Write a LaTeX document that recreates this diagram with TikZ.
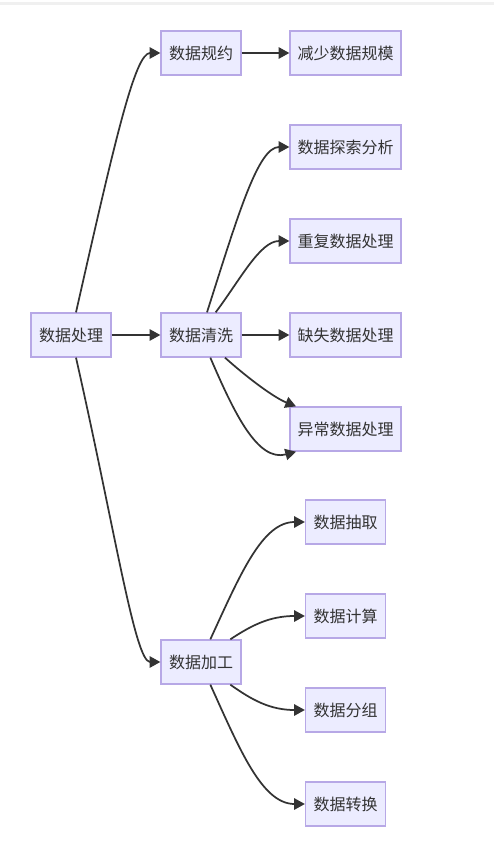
\documentclass[tikz,border=0pt]{standalone}
\usepackage{fontspec}
\setmainfont{Noto Sans CJK SC}
\usepackage{tikz}
\usepackage{xcolor}
\usetikzlibrary{arrows.meta}

\definecolor{boxfill}{HTML}{ECECFF}
\definecolor{boxline}{HTML}{B7A8E6}
\definecolor{inkc}{HTML}{333333}

\begin{document}
\begin{tikzpicture}[x=0.75pt, y=-0.75pt,
        box/.style={draw=boxline, fill=boxfill, line width=1pt, text=inkc,
            minimum height=33pt, minimum width=60pt, inner sep=0pt,
            font=\fontsize{12pt}{14pt}\selectfont},
        wide/.style={box, minimum width=83.25pt},
        arr/.style={draw=inkc, line width=1.3pt,
            -{Triangle[length=8pt, width=8.5pt]}}]
        \useasboundingbox[fill=white] (0, 0) rectangle (494, 859);
        \fill[gray!12] (0, 2.5) rectangle (494, 5.5);

        \node[box] at (71, 335) (proc) {数据处理};
        \node[box] at (201, 53) (reduce) {数据规约};
        \node[wide] at (345.5, 53) (shrink) {减少数据规模};
        \node[box] at (201, 335) (clean) {数据清洗};
        \node[wide] at (345.5, 147) (explore) {数据探索分析};
        \node[wide] at (345.5, 241) (dup) {重复数据处理};
        \node[wide] at (345.5, 335) (miss) {缺失数据处理};
        \node[wide] at (345.5, 429) (odd) {异常数据处理};
        \node[box] at (201, 662) (work) {数据加工};
        \node[box] at (345.5, 522) (extract) {数据抽取};
        \node[box] at (345.5, 616) (calc) {数据计算};
        \node[box] at (345.5, 710) (group) {数据分组};
        \node[box] at (345.5, 804) (conv) {数据转换};

        \draw[arr] ([xshift=3.75pt]proc.north) .. controls (115, 140) and (135, 53) .. (reduce.west);
        \draw[arr] (proc.east) -- (clean.west);
        \draw[arr] ([xshift=3.75pt]proc.south) .. controls (115, 530) and (135, 662) .. (work.west);
        \draw[arr] (reduce.east) -- (shrink.west);

        \draw[arr] ([xshift=4.5pt]clean.north) .. controls (238, 215) and (258, 147) .. (explore.west);
        \draw[arr] ([xshift=11pt]clean.north) .. controls (240, 280) and (260, 241) .. (dup.west);
        \draw[arr] (clean.east) -- (miss.west);
        \draw[arr] ([xshift=18pt]clean.south) .. controls (250, 380) and (275, 398) .. ([xshift=5pt]odd.north west);
        \draw[arr] ([xshift=7pt]clean.south) .. controls (235, 415) and (258, 462) .. ([xshift=5pt]odd.south west);

        \draw[arr] ([xshift=7pt]work.north) .. controls (240, 575) and (262, 522) .. (extract.west);
        \draw[arr] ([xshift=22pt]work.north) .. controls (252, 625) and (270, 616) .. (calc.west);
        \draw[arr] ([xshift=22pt]work.south) .. controls (252, 700) and (270, 710) .. (group.west);
        \draw[arr] ([xshift=7pt]work.south) .. controls (240, 750) and (262, 804) .. (conv.west);
    \end{tikzpicture}
\end{document}
